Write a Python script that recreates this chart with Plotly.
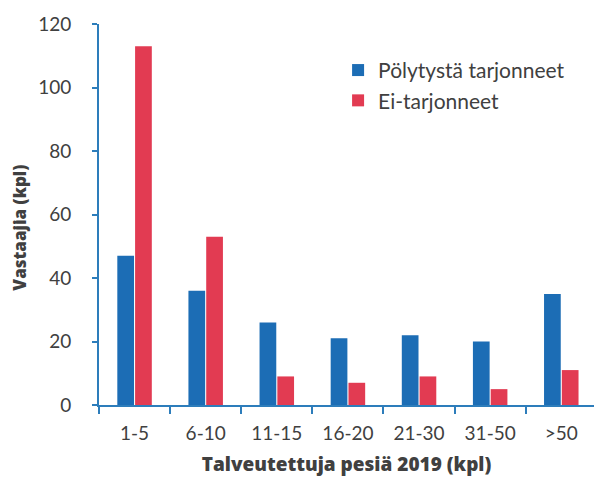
import plotly.graph_objects as go

categories = ["1-5", "6-10", "11-15", "16-20", "21-30", "31-50", ">50"]
polytysta = [47, 36, 26, 21, 22, 20, 35]
ei_tarjonneet = [113, 53, 9, 7, 9, 5, 11]
y_ticks = [0, 20, 40, 60, 80, 100, 120]

BLUE = "#1c6db5"
RED = "#e23b52"
AXIS = "#2d7dbb"
TXT = "#404040"
FONT = "Lato"
TFONT = "Open Sans"

fig = go.Figure()
fig.add_trace(go.Bar(x=categories, y=polytysta, name="Pölytystä tarjonneet",
                     marker=dict(color=BLUE, line=dict(width=0))))
fig.add_trace(go.Bar(x=categories, y=ei_tarjonneet, name="Ei-tarjonneet",
                     marker=dict(color=RED, line=dict(width=0))))

fig.update_layout(
    width=594, height=480,
    margin=dict(l=99, r=0, t=24, b=75),
    paper_bgcolor="white", plot_bgcolor="white",
    barmode="group", bargap=0.5, bargroupgap=0.06,
    font=dict(family=FONT, color=TXT),
    legend=dict(x=0.483, y=0.932, xanchor="left", yanchor="top",
                font=dict(size=21, color=TXT, family=FONT),
                itemwidth=30, tracegroupgap=6, bgcolor="rgba(0,0,0,0)"),
    showlegend=True,
    annotations=[dict(text="Vastaajia (kpl)", textangle=-90, showarrow=False,
                      xref="paper", yref="paper", x=-0.16, y=0.465,
                      xanchor="center", yanchor="middle",
                      font=dict(size=17, color=TXT, family=TFONT, weight=800))],
)
fig.update_xaxes(
    type="category", range=[-0.5, 6.46], automargin=False,
    showline=True, linecolor=AXIS, linewidth=2,
    ticks="outside", tickson="boundaries", ticklen=7, tickcolor=AXIS, tickwidth=2,
    tickfont=dict(size=19, color=TXT, family=FONT),
    ticklabelstandoff=10,
    title=dict(text="Talveutettuja pesiä 2019 (kpl)",
               font=dict(size=19, color=TXT, family=TFONT, weight=800), standoff=15),
    showgrid=False, zeroline=False,
)
fig.update_yaxes(
    range=[0, 120], tickvals=y_ticks, automargin=False,
    showline=True, linecolor=AXIS, linewidth=2,
    ticks="outside", ticklen=5, tickcolor=AXIS, tickwidth=2,
    tickfont=dict(size=19, color=TXT, family=FONT),
    ticklabelstandoff=17,
    showgrid=False, zeroline=False,
)

fig.write_html("out.html", config={"displayModeBar": False},
               post_script="document.body.style.margin='0';document.body.style.padding='0';")
